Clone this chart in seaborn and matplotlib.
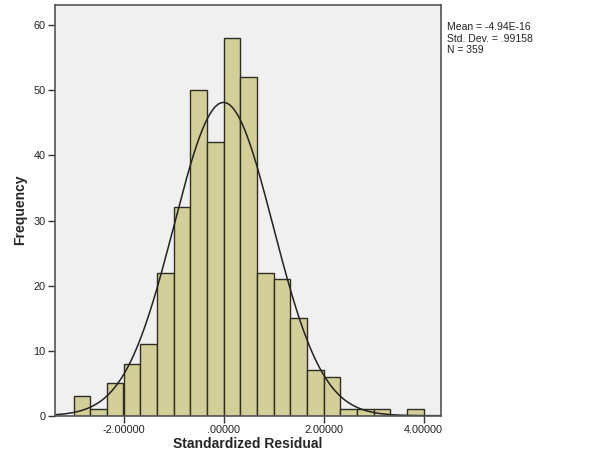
import numpy as np
import pandas as pd
import seaborn as sns
import matplotlib.pyplot as plt

# histogram bins (width 1/3) and counts
bin_start = -3.0
bin_width = 1.0 / 3.0
counts = [3, 1, 5, 8, 11, 22, 32, 50, 42, 58, 52, 22, 21, 15, 7, 6, 1, 1, 1, 0, 1]
mean = -4.94e-16
std_dev = 0.99158
n_obs = 359
xtick_vals = [-2.0, 0.0, 2.0, 4.0]
xtick_labels = ["-2.00000", ".00000", "2.00000", "4.00000"]
ytick_vals = [0, 10, 20, 30, 40, 50, 60]

edges = [bin_start + bin_width * i for i in range(len(counts) + 1)]
hist_df = pd.DataFrame({
    "resid": [(edges[i] + edges[i + 1]) / 2 for i in range(len(counts))],
    "count": counts,
})

sns.set_style("white")
plt.rcParams["font.family"] = ["Liberation Sans", "DejaVu Sans"]

fig = plt.figure(figsize=(5.89, 4.72), dpi=100)
ax = fig.add_axes([55 / 589, 1 - 415.7 / 472, (441 - 55) / 589, (415.7 - 4.5) / 472])
ax.set_facecolor("#f0f0f0")

sns.histplot(data=hist_df, x="resid", weights="count", bins=edges, ax=ax,
             color="#d4cf98", alpha=1.0, edgecolor="#2e2e22", linewidth=1.0)

# fitted normal curve
xs = np.linspace(-3.37, 4.35, 300)
ys = n_obs * bin_width / (std_dev * np.sqrt(2 * np.pi)) * np.exp(-0.5 * ((xs - mean) / std_dev) ** 2)
ax.plot(xs, ys, color="#222222", linewidth=1.1)

ax.set_xlim(-3.37, 4.35)
ax.set_ylim(0, 63.2)
ax.set_xticks(xtick_vals)
ax.set_xticklabels(xtick_labels)
ax.set_yticks(ytick_vals)
ax.tick_params(axis="both", direction="out", length=5, width=1, color="#333333",
               labelsize=7.8, labelcolor="#222222", pad=2, bottom=True, left=True)

for side in ["top", "right", "bottom", "left"]:
    ax.spines[side].set_visible(True)
    ax.spines[side].set_color("#555555")
    ax.spines[side].set_linewidth(1.2)

ax.set_xlabel("Standardized Residual", fontsize=10, fontweight="bold", labelpad=1)
ax.set_ylabel("Frequency", fontsize=10, fontweight="bold", labelpad=4)

fig.text(447 / 589, 1 - 22 / 472,
         "Mean = -4.94E-16\nStd. Dev. = .99158\nN = 359",
         fontsize=7.5, va="top", ha="left", linespacing=1.2, color="#222222")

fig.savefig("out.png", dpi=100, facecolor="white")
